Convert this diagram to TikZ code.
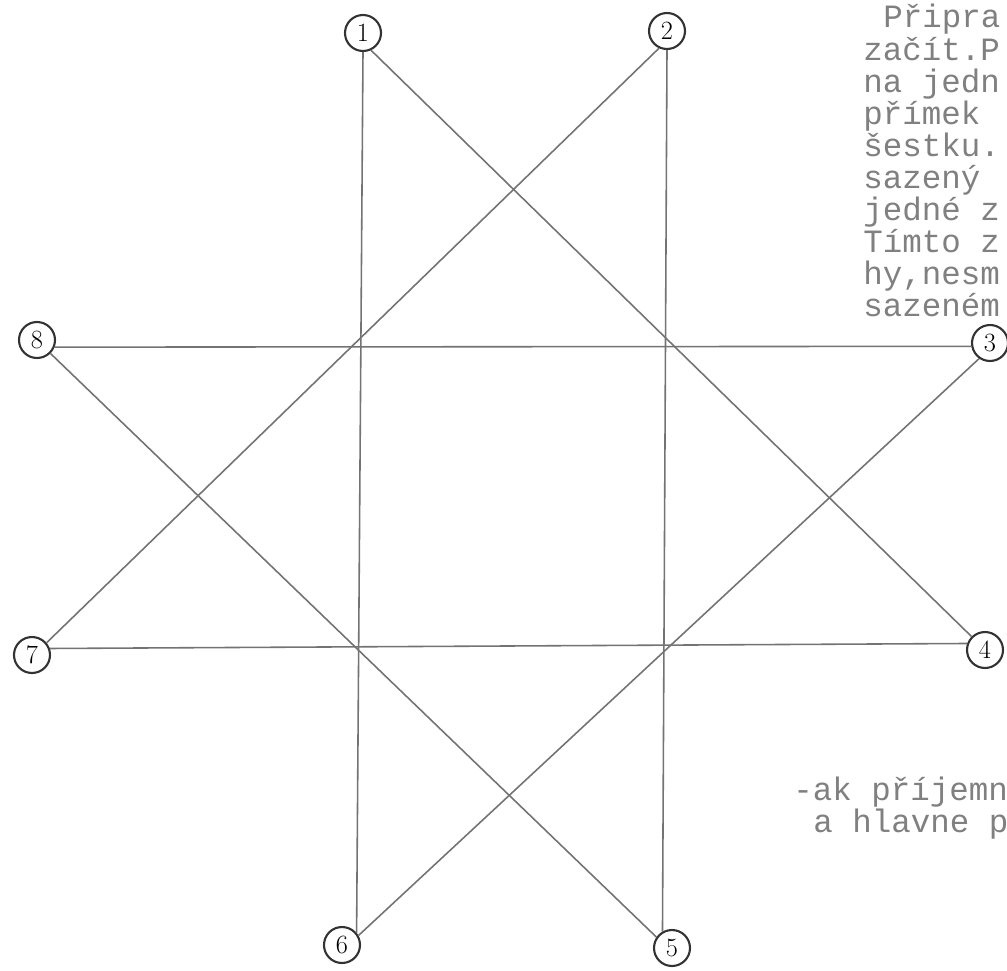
\documentclass[tikz,border=0pt]{standalone}
\usepackage{fontspec}
\newfontfamily\typewriter{Liberation Mono}
\tikzset{
  spot/.style={
    circle, draw=black!80, line width=1.2pt, inner sep=0pt,
    minimum size=0.72cm, font=\fontsize{15}{15}\selectfont
  },
  starline/.style={
    draw=black!55, line width=0.9pt
  },
  typed/.style={
    anchor=base west, inner sep=0pt, text=black!50,
    font=\typewriter\fontsize{18.5}{18.5}\selectfont
  },
}

\begin{document}
\begin{tikzpicture}[x=0.02cm, y=-0.02cm]
  \useasboundingbox (0,0) rectangle (1007,970);
  \clip (0,0) rectangle (1007,970);

  % --- numbered spots ---
  \node[spot] (n1) at (363,33)  {1};
  \node[spot] (n2) at (667,31)  {2};
  \node[spot] (n3) at (990,343) {3};
  \node[spot] (n4) at (985,650) {4};
  \node[spot] (n5) at (672,948) {5};
  \node[spot] (n6) at (342,945) {6};
  \node[spot] (n7) at (32,655)  {7};
  \node[spot] (n8) at (37,340)  {8};

  % --- star lines ---
  \draw[starline] (n1.-90)  -- (n6.40);
  \draw[starline] (n2.-90)  -- (n5.120);
  \draw[starline] (n8.-22)  -- (n3.190);
  \draw[starline] (n7.20)   -- (n4.160);
  \draw[starline] (n1.-65)  -- (n4.135);
  \draw[starline] (n2.-115) -- (n7.40);
  \draw[starline] (n8.-45)  -- (n5.145);
  \draw[starline] (n3.-125) -- (n6.30);

  % --- typed text, cut at the page edge ---
  \node[typed] (t1) at (883,28) {Připra};
  \foreach \txt [count=\i from 2] in {začít.P, na jedn, přímek, šestku.,
      sazený, jedné z, Tímto z, {hy,nesm}, sazeném}
    \node[typed] (t\i) at (863,{28+32*(\i-1)}) {\txt};

  \node[typed] (b1) at (793,800) {-ak příjemn};
  \node[typed] (b2) at (813,832) {a hlavne p};
\end{tikzpicture}
\end{document}
